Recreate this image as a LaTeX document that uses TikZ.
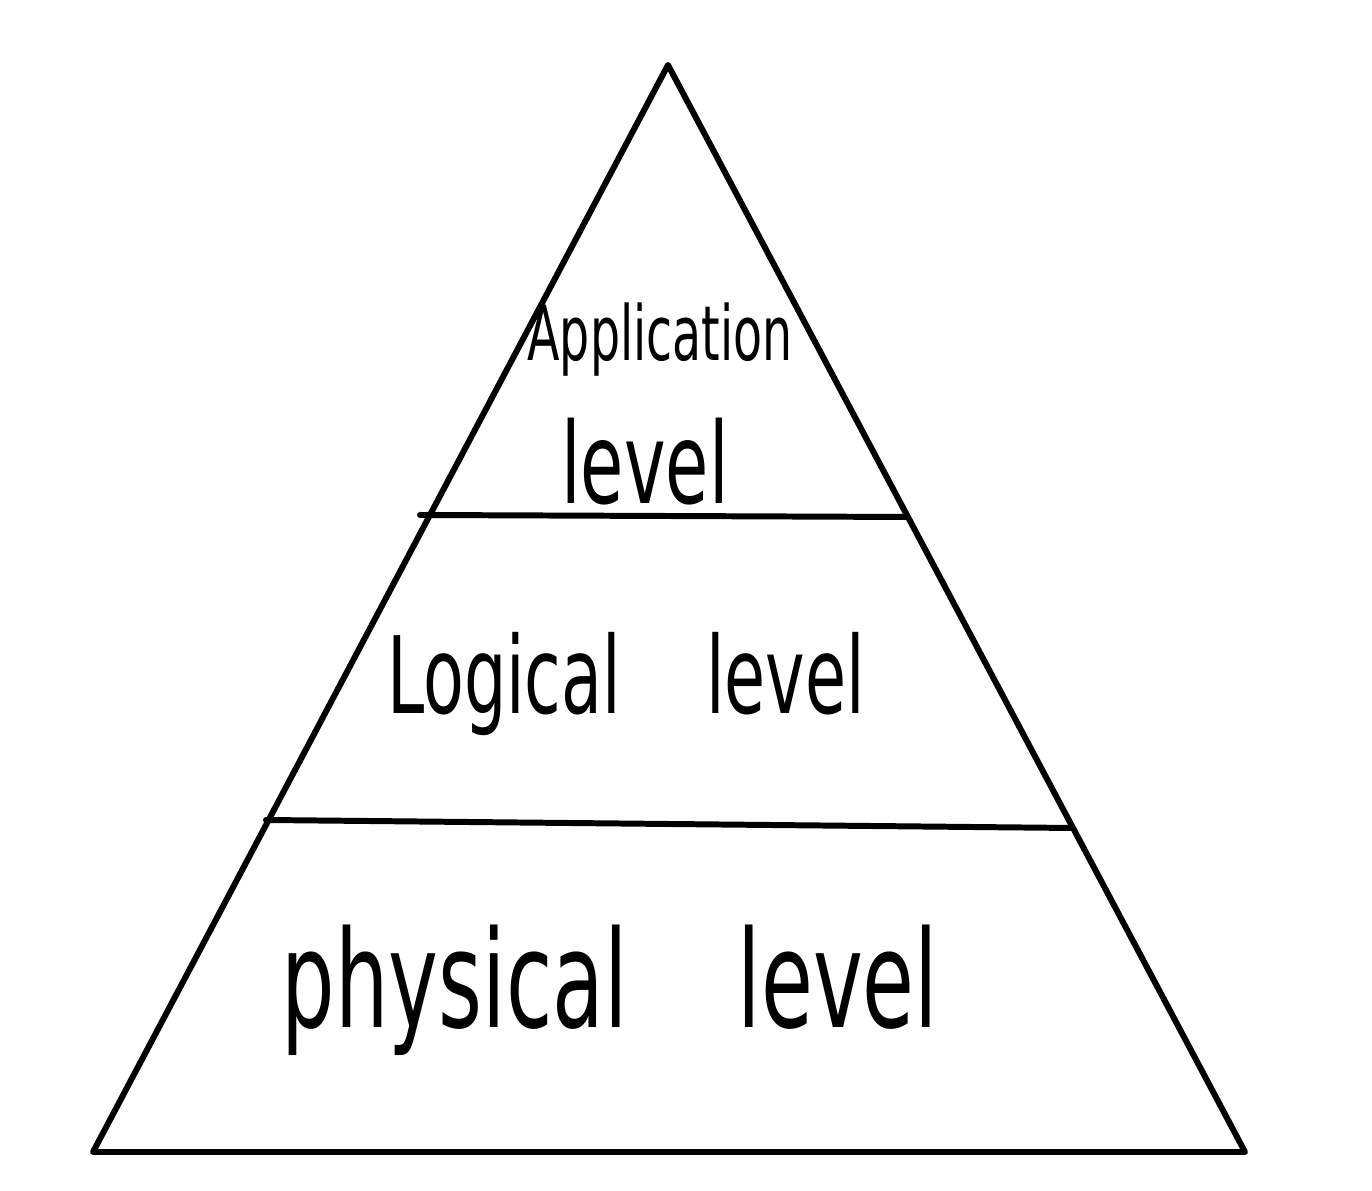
\documentclass[tikz,border=0pt]{standalone}
\usepackage{fontspec}
\setmainfont{DejaVu Sans}
\usetikzlibrary{positioning,calc}

\newcommand{\tall}[1]{\scalebox{1}[1.6]{#1}}

\begin{document}
\begin{tikzpicture}[
    edge/.style={draw=black, line width=1.7pt, line cap=round, line join=round},
    levellabel/.style={text=black, align=center, inner sep=0pt}
]
    \useasboundingbox (0,0) rectangle (13.72,11.90);

    % pyramid outline
    \coordinate (apex) at (6.68,11.25);
    \coordinate (bl) at (0.93,0.38);
    \coordinate (br) at (12.45,0.38);
    \coordinate (d1l) at (4.20,6.75);
    \coordinate (d1r) at (9.07,6.73);
    \coordinate (d2l) at (2.66,3.70);
    \coordinate (d2r) at (10.72,3.62);

    \draw [edge] (apex) -- (br) -- (bl) -- cycle;
    \draw [edge] (d1l) -- (d1r);
    \draw [edge] (d2l) -- (d2r);

    % tier labels
    \node (app) [levellabel, font=\fontsize{13.5}{16}\selectfont] at (6.60,8.50) {\tall{Application}};
    \node (applev) [levellabel, font=\fontsize{20}{24}\selectfont] at (6.45,7.28) {\tall{level}};
    \node (logic) [levellabel, font=\fontsize{19}{22}\selectfont] at (6.26,5.06) {\tall{Logical\hspace{0.85cm}level}};
    \node (phys) [levellabel, font=\fontsize{24}{28}\selectfont] at (6.10,2.00) {\tall{physical\hspace{1.1cm}level}};
\end{tikzpicture}
\end{document}
